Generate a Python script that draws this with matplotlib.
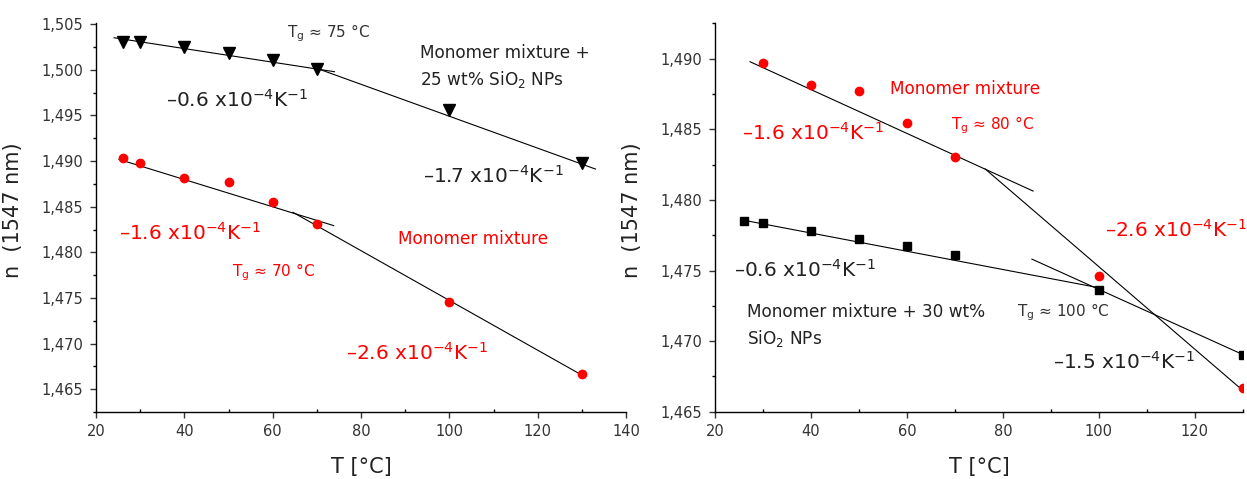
import numpy as np
import matplotlib
matplotlib.use("Agg")
import matplotlib.pyplot as plt
from matplotlib.ticker import MultipleLocator, FuncFormatter

# --- data ---
T = [26, 30, 40, 50, 60, 70, 100, 130]

# left panel: 25 wt% SiO2 composite (triangles) and pure monomer mixture (circles)
n_25wt = [1.50300, 1.50306, 1.50251, 1.50179, 1.50106, 1.50004, 1.49558, 1.48975]
n_mono_a = [1.49029, 1.48975, 1.48817, 1.48773, 1.48548, 1.48307, 1.47459, 1.46664]

# right panel: pure monomer (circles, no point at 26) and 30 wt% composite (squares)
T_mono_b = [30, 40, 50, 60, 70, 100, 130]
n_mono_b = [1.48972, 1.48814, 1.48771, 1.48542, 1.48306, 1.47461, 1.46667]
n_30wt = [1.47851, 1.47834, 1.47778, 1.47723, 1.47674, 1.47608, 1.47362, 1.46904]

# fitted straight lines, (x0, x1), (y0, y1)
fits_left = [
    ((24.1, 74.0), (1.50350, 1.49978)),
    ((70.0, 133.1), (1.50015, 1.48912)),
    ((25.2, 73.8), (1.49018, 1.48293)),
    ((64.6, 130.0), (1.48438, 1.46656)),
]
fits_right = [
    ((27.3, 86.3), (1.48979, 1.48063)),
    ((76.3, 131.0), (1.48220, 1.46622)),
    ((25.9, 100.5), (1.47857, 1.47375)),
    ((86.05, 131.0), (1.47581, 1.46890)),
]

RED = "#ff0000"
slope = lambda v: "\u2013" + v + r" x10$^{\mathregular{-4}}$K$^{\mathregular{-1}}$"
tg = lambda v: r"T$_\mathregular{g}$ ≈ " + v + " °C"

fig = plt.figure(figsize=(12.47, 4.79), dpi=100)
axL = fig.add_axes([0.0770, 0.1392, 0.4250, 0.8121])
axR = fig.add_axes([0.5734, 0.1392, 0.4232, 0.8121])


def style(ax, xlim, ylim, ymax_tick):
    ax.set_xlim(*xlim)
    ax.set_ylim(*ylim)
    for s in ("top", "right"):
        ax.spines[s].set_visible(False)
    for s in ("left", "bottom"):
        ax.spines[s].set_linewidth(1.0)
    ax.xaxis.set_major_locator(MultipleLocator(20))
    ax.xaxis.set_minor_locator(MultipleLocator(10))
    ax.yaxis.set_major_locator(MultipleLocator(0.005))
    ax.yaxis.set_minor_locator(MultipleLocator(0.0025))
    ax.yaxis.set_major_formatter(FuncFormatter(lambda v, p: f"{v:.3f}".replace(".", ",")))
    ax.tick_params(axis="both", which="major", labelsize=10.5, colors="#333333",
                   length=4.5, width=1.0, labelcolor="#333333")
    ax.tick_params(axis="y", which="major", pad=5)
    ax.tick_params(axis="y", which="minor", length=2.5, width=1.0, direction="out")
    ax.tick_params(axis="x", which="minor", length=2.5, width=1.0, direction="in")
    ax.tick_params(axis="x", which="major", pad=4)
    ax.set_xlabel("T [°C]", fontsize=15, color="#222222")
    ax.set_ylabel("n  (1547 nm)", fontsize=15, color="#222222")
    ax.xaxis.set_label_coords(0.50, -0.115)
    ax.yaxis.set_label_coords(-0.138, 0.52)


# ---- left panel ----
style(axL, (20, 140), (1.46248, 1.50508), 1.505)
for (xs, ys) in fits_left:
    axL.plot(xs, ys, color="black", lw=0.8)
axL.plot(T, n_25wt, "v", color="black", ms=8.4)
axL.plot(T, n_mono_a, "o", color=RED, ms=6)

axL.text(63.3, 1.50398, tg("75"), fontsize=11, color="#333333", va="center")
axL.text(93.3, 1.50186, "Monomer mixture +", fontsize=12.2, color="#222222", va="center")
axL.text(93.3, 1.49894, r"25 wt% SiO$_\mathregular{2}$ NPs", fontsize=12.2, color="#222222", va="center")
axL.text(35.9, 1.49668, slope("0.6"), fontsize=14.5, color="#222222", va="center")
axL.text(94.0, 1.48836, slope("1.7"), fontsize=14.5, color="#222222", va="center")
axL.text(25.2, 1.48208, slope("1.6"), fontsize=14.5, color=RED, va="center")
axL.text(88.4, 1.48142, "Monomer mixture", fontsize=12.2, color=RED, va="center")
axL.text(50.7, 1.47788, tg("70"), fontsize=11, color=RED, va="center")
axL.text(76.7, 1.46901, slope("2.6"), fontsize=14.5, color=RED, va="center")

# ---- right panel ----
style(axR, (20, 130), (1.46496, 1.49251), 1.490)
for (xs, ys) in fits_right:
    axR.plot(xs, ys, color="black", lw=0.8)
axR.plot(T_mono_b, n_mono_b, "o", color=RED, ms=6)
axR.plot(T, n_30wt, "s", color="black", ms=6.3)

axR.text(56.4, 1.48783, "Monomer mixture", fontsize=12.2, color=RED, va="center")
axR.text(69.2, 1.48530, tg("80"), fontsize=11, color=RED, va="center")
axR.text(25.6, 1.48472, slope("1.6"), fontsize=14.5, color=RED, va="center")
axR.text(101.3, 1.47787, slope("2.6"), fontsize=14.5, color=RED, va="center")
axR.text(23.9, 1.47504, slope("0.6"), fontsize=14.5, color="#222222", va="center")
axR.text(26.6, 1.47208, "Monomer mixture + 30 wt%", fontsize=12.2, color="#222222", va="center")
axR.text(26.6, 1.47020, r"SiO$_\mathregular{2}$ NPs", fontsize=12.2, color="#222222", va="center")
axR.text(83.0, 1.47208, tg("100"), fontsize=11, color="#333333", va="center")
axR.text(90.5, 1.46854, slope("1.5"), fontsize=14.5, color="#222222", va="center")

fig.savefig("out.png", dpi=100)
